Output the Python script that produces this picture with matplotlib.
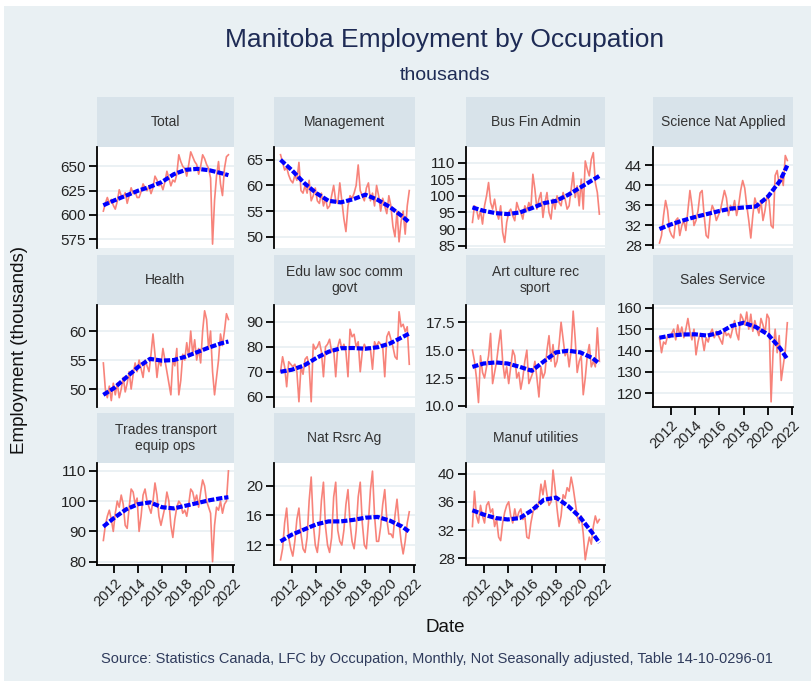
import numpy as np
import matplotlib.pyplot as plt
from matplotlib.patches import Rectangle

plt.rcParams['font.family'] = ['Liberation Sans', 'DejaVu Sans']

# bimonthly observations, Feb 2011 .. Aug 2021
months = [2, 4, 6, 8, 10, 12]
dates = [y + (m - 1) / 12 for y in range(2011, 2022) for m in months][:64]

total = [604, 612, 618, 612, 616, 610,
         606, 614, 626, 620, 618, 623,
         612, 620, 628, 622, 624, 618,
         618, 624, 632, 628, 625, 630,
         622, 628, 640, 636, 630, 632,
         626, 634, 645, 638, 630, 636,
         634, 642, 662, 655, 650, 648,
         640, 652, 665, 660, 655, 652,
         642, 650, 662, 658, 652, 648,
         638, 570, 615, 640, 655, 632,
         620, 648, 660, 662]
management = [66, 64.5, 63, 63.5, 62, 61,
              60.5, 62, 61, 64.5, 59, 58.5,
              60, 58.5, 61, 57, 58, 59.5,
              57, 56.5, 58.5, 56, 57.5, 55.5,
              56, 58, 60, 57, 56.5, 60.5,
              57, 53.5, 51, 56, 58, 57.5,
              58.5, 60, 64, 59, 58, 57,
              59.5, 60.5, 57, 58.5, 56, 60,
              58, 55, 57.5, 56, 54.5, 58,
              56, 52, 50, 55, 49, 53,
              55, 50.5, 56, 59]
bus_fin = [92, 97, 96, 93, 95.5, 91.5,
           97, 100, 104, 98, 96, 99,
           95, 93, 97, 89, 86, 92,
           95, 96, 94, 92.5, 98, 96,
           95, 93, 97, 95.5, 98, 96,
           106.5, 102, 96, 99, 101, 93.5,
           98, 101, 95, 93, 99, 96,
           100, 98, 97, 101, 99, 96,
           97, 102, 107, 99.5, 103, 97,
           105, 96, 110.5, 108, 106, 111,
           113, 104, 101, 94.5]
science = [28.5, 30, 34, 37, 35, 31,
           30, 29.5, 33, 33.5, 30, 32,
           33, 31, 35, 39, 36, 32,
           33, 35, 38.5, 39, 34, 30,
           29.5, 34, 36, 35, 33, 34,
           35, 37, 39, 37.5, 34, 36,
           35, 37, 34, 36, 39, 41,
           39.5, 36, 33, 29.5, 34, 37.5,
           36, 34.5, 37, 33, 35, 38,
           37, 32, 31.5, 42, 43, 40,
           42, 40, 46, 45]
health = [54.5, 50, 48.5, 50.5, 48, 51,
          49, 51, 48.5, 50, 52, 49.5,
          51, 53, 50, 52.5, 54.5, 53,
          55, 53.5, 52, 55, 54, 53,
          56, 59.5, 56, 52, 55, 54,
          57, 55, 53, 51, 49, 55,
          54, 57, 49, 51.5, 56, 55,
          58, 55.5, 60, 56, 58.5, 55,
          57, 54.5, 60, 63.5, 62, 57,
          60, 53, 49, 52, 55, 59.5,
          57.5, 60, 63, 62]
edu_law = [70, 76, 72, 64, 74, 73,
           72, 73, 70, 58, 72, 69,
           75, 76, 72, 58, 81, 79,
           80, 82, 78, 68, 80, 81,
           83, 78, 79, 68, 80, 83,
           79, 81, 78, 68, 87, 84,
           85, 80, 82, 70, 78, 81,
           79, 80, 79, 71, 82, 80,
           82, 81, 80, 68, 84, 86,
           83, 80, 76, 75, 94, 88,
           89, 86, 88, 73]
art = [15, 14, 12.5, 10.3, 14.5, 13,
       12.5, 13.5, 14.5, 16.5, 12, 13,
       14, 15.5, 16.8, 14, 12.5, 13.5,
       12, 13.5, 15, 14.5, 12.5, 13,
       11.5, 12.5, 14, 15, 12, 12.5,
       13, 14, 12.5, 10.8, 13.5, 12.5,
       13, 15, 16.3, 14, 15.5, 13.5,
       14, 15.5, 17.5, 16, 14.5, 15,
       13.5, 15, 18.5, 16, 13, 14,
       14.5, 11, 12.5, 14.5, 15.5, 13.5,
       14, 13.5, 17, 14]
sales = [146, 139, 144, 143, 147, 146,
         148, 150, 145, 152, 147, 151,
         146, 150, 155, 149, 145, 150,
         138, 144, 148, 146, 140, 146,
         144, 148, 150, 146, 149, 147,
         145, 143, 150, 147, 148, 146,
         150, 154, 148, 145, 157, 155,
         152, 158, 150, 157, 149, 154,
         150, 147, 155, 152, 148, 157,
         155, 116, 140, 150, 139, 147,
         126, 133, 140, 153]
trades = [87, 92, 95, 97, 94, 90,
          96, 100, 98, 102, 99, 92,
          91, 98, 104, 103, 99, 101,
          90, 95, 102, 104, 100, 98,
          96, 100, 106, 102, 95, 92,
          95, 98, 103, 100, 92, 88,
          94, 98, 100, 99, 96, 97,
          95, 99, 104, 103, 100, 102,
          98, 103, 107, 105, 100, 98,
          96, 80, 92, 98, 97, 100,
          96, 99, 100, 110]
nat_rsrc = [10, 11.5, 15, 17, 13, 11.5,
            10.5, 12.5, 15.5, 17, 13.5, 11.5,
            11, 13, 18, 21.2, 15, 12,
            11, 13.5, 18, 20.5, 14.5, 12,
            11, 13, 18.5, 20.5, 14, 12.5,
            12, 14, 17.5, 19.5, 15, 12.5,
            11.5, 14, 18.5, 20.5, 15, 12,
            11.5, 15, 19.5, 22, 16, 12.5,
            12.5, 14.5, 17.5, 19.5, 15.5, 13.5,
            13.5, 13, 16, 18.2, 15, 12.5,
            10.8, 12.5, 15, 16.5]
manuf = [32.5, 37.5, 34, 33, 35.5, 34,
         33, 35.5, 36, 34.5, 35, 32.5,
         33.5, 31, 30.5, 33, 34.5, 35.5,
         36, 34, 33, 35, 33.5, 34.5,
         35, 33.5, 34, 31, 30.8, 33,
         34.5, 35.5, 35, 36, 38.5, 37,
         39, 37, 35.5, 36, 40.5, 38,
         35, 32.5, 34, 37, 36.5, 38,
         37.5, 39.5, 38, 36, 34, 33,
         34, 31.5, 27.8, 29.5, 31, 30,
         32.5, 34, 33, 33.5]

# smoothed trend read at these dates
smooth_x = [2011.08, 2012, 2013, 2014, 2015, 2016, 2017, 2018, 2019, 2020, 2021, 2021.58]
smooth = {
    'Total': [610, 615, 620, 625, 629, 634, 642, 646.5, 647.5, 646, 643, 641],
    'Management': [65, 63, 60.5, 58.5, 57, 56.7, 57.3, 58.2, 57.2, 55.8, 54, 52.8],
    'Bus Fin Admin': [96.5, 95.5, 94.8, 94.5, 95, 96.3, 97.8, 98.5, 100.3, 102.5, 104.7, 106],
    'Science Nat Applied': [31.3, 32.2, 33, 33.7, 34.3, 34.9, 35.4, 35.6, 35.8, 37.8, 41, 44],
    'Health': [49, 50.2, 52, 53.8, 55.2, 54.9, 55, 55.6, 56.4, 57.2, 57.9, 58.2],
    'Edu law soc comm\ngovt': [70, 70.8, 72.5, 75.5, 78, 79.4, 79.5, 79.2, 79.8, 81.3, 83.8, 85.3],
    'Art culture rec\nsport': [13.5, 13.8, 13.9, 13.8, 13.5, 13.15, 14.0, 14.8, 14.95, 14.8, 14.3, 13.8],
    'Sales Service': [146, 147, 147.5, 147.6, 147, 148.3, 151.5, 153, 151, 147.5, 141, 136],
    'Trades transport\nequip ops': [91.6, 94.5, 97.3, 99, 99.6, 98, 97.6, 98.5, 99.4, 100.3, 101, 101.3],
    'Nat Rsrc Ag': [12.5, 13.4, 14.1, 14.8, 15.2, 15.2, 15.4, 15.7, 15.8, 15.3, 14.5, 13.8],
    'Manuf utilities': [34.8, 34.2, 33.7, 33.5, 33.7, 34.8, 36.3, 36.6, 35.4, 33.8, 31.6, 30.2],
}

panels = [
    ('Total', total, (566, 670), [575, 600, 625, 650]),
    ('Management', management, (47.8, 67.5), [50, 55, 60, 65]),
    ('Bus Fin Admin', bus_fin, (84.3, 114.7), [85, 90, 95, 100, 105, 110]),
    ('Science Nat Applied', science, (27.5, 47.7), [28, 32, 36, 40, 44]),
    ('Health', health, (46.9, 64.5), [50, 55, 60]),
    ('Edu law soc comm\ngovt', edu_law, (55.9, 96.7), [60, 70, 80, 90]),
    ('Art culture rec\nsport', art, (9.9, 19.05), [10.0, 12.5, 15.0, 17.5]),
    ('Sales Service', sales, (113.6, 161.3), [120, 130, 140, 150, 160]),
    ('Trades transport\nequip ops', trades, (78.9, 112.6), [80, 90, 100, 110]),
    ('Nat Rsrc Ag', nat_rsrc, (9.3, 23.1), [12, 16, 20]),
    ('Manuf utilities', manuf, (27.05, 41.5), [28, 32, 36, 40]),
]
year_ticks = [2012, 2014, 2016, 2018, 2020, 2022]

W, H = 811, 681
bg = '#e9f0f3'
strip_col = '#d8e3ea'
grid_col = '#e6edf1'

def rect(x0, y0, x1, y1):
    return [x0 / W, 1 - y1 / H, (x1 - x0) / W, (y1 - y0) / H]

fig = plt.figure(figsize=(W / 100, H / 100), dpi=100, facecolor='white')
fig.patches.append(Rectangle((4 / W, 0), 1, 1 - 6 / H, transform=fig.transFigure,
                             facecolor=bg, edgecolor='none', zorder=-10))

col_x = [(97, 234), (274, 415), (466, 605), (653, 793)]
row_y = [(147, 248), (305, 407), (463, 565)]

for i, (name, vals, ylim, yt) in enumerate(panels):
    r, c = divmod(i, 4)
    x0, x1 = col_x[c]
    y0, y1 = row_y[r]
    # strip header
    sax = fig.add_axes(rect(x0, y0 - 50, x1, y0))
    sax.set_facecolor(strip_col)
    sax.set_xticks([])
    sax.set_yticks([])
    for s in sax.spines.values():
        s.set_visible(False)
    sax.text(0.5, 0.5, name, ha='center', va='center', fontsize=10,
             color='#333333', linespacing=1.15, transform=sax.transAxes)

    ax = fig.add_axes(rect(x0, y0, x1, y1))
    ax.set_facecolor('white')
    ax.plot(dates, vals, color='#f7766c', lw=1.2, alpha=0.9, zorder=3)
    ax.plot(smooth_x, smooth[name], color='#0000ff', lw=3, ls=(0, (1.5, 0.45)),
            zorder=4)
    ax.set_xlim(2010.55, 2022.05)
    ax.set_ylim(*ylim)
    ax.set_yticks(yt)
    if name == 'Art culture rec\nsport':
        ax.set_yticklabels([f'{v:.1f}' for v in yt])
    ax.grid(axis='y', color=grid_col, lw=1.1, zorder=0)
    for s in ['top', 'right']:
        ax.spines[s].set_visible(False)
    ax.spines['left'].set_linewidth(1.3)
    ax.tick_params(axis='y', direction='out', length=6, width=1.3,
                   labelsize=11, labelcolor='#222222', pad=2)
    show_x = r == 2 or name == 'Sales Service'
    ax.set_xticks(year_ticks)
    if show_x:
        ax.spines['bottom'].set_linewidth(1.3)
        ax.tick_params(axis='x', direction='out', length=6, width=1.3,
                       labelsize=10.5, labelcolor='#222222', pad=2)
        ax.set_xticklabels([str(y) for y in year_ticks], rotation=45,
                           ha='right', va='top', rotation_mode='anchor')
    else:
        ax.spines['bottom'].set_visible(False)
        ax.tick_params(axis='x', length=0, labelbottom=False)

fig.text(445 / W, 1 - 40 / H, 'Manitoba Employment by Occupation', ha='center',
         va='center', fontsize=19, color='#1e2b55')
fig.text(445 / W, 1 - 75 / H, 'thousands', ha='center', va='center',
         fontsize=14, color='#1e2b55')
fig.text(20 / W, 1 - 350 / H, 'Employment (thousands)', rotation=90,
         ha='center', va='center', fontsize=13.5, color='#111111')
fig.text(445 / W, 1 - 628 / H, 'Date', ha='center', va='center',
         fontsize=13.5, color='#111111')
fig.text(437 / W, 1 - 659 / H,
         'Source: Statistics Canada, LFC by Occupation, Monthly, Not Seasonally adjusted, Table 14-10-0296-01',
         ha='center', va='center', fontsize=10.5, color='#2f3b5c')

fig.savefig('out.png', dpi=100, facecolor=fig.get_facecolor())
